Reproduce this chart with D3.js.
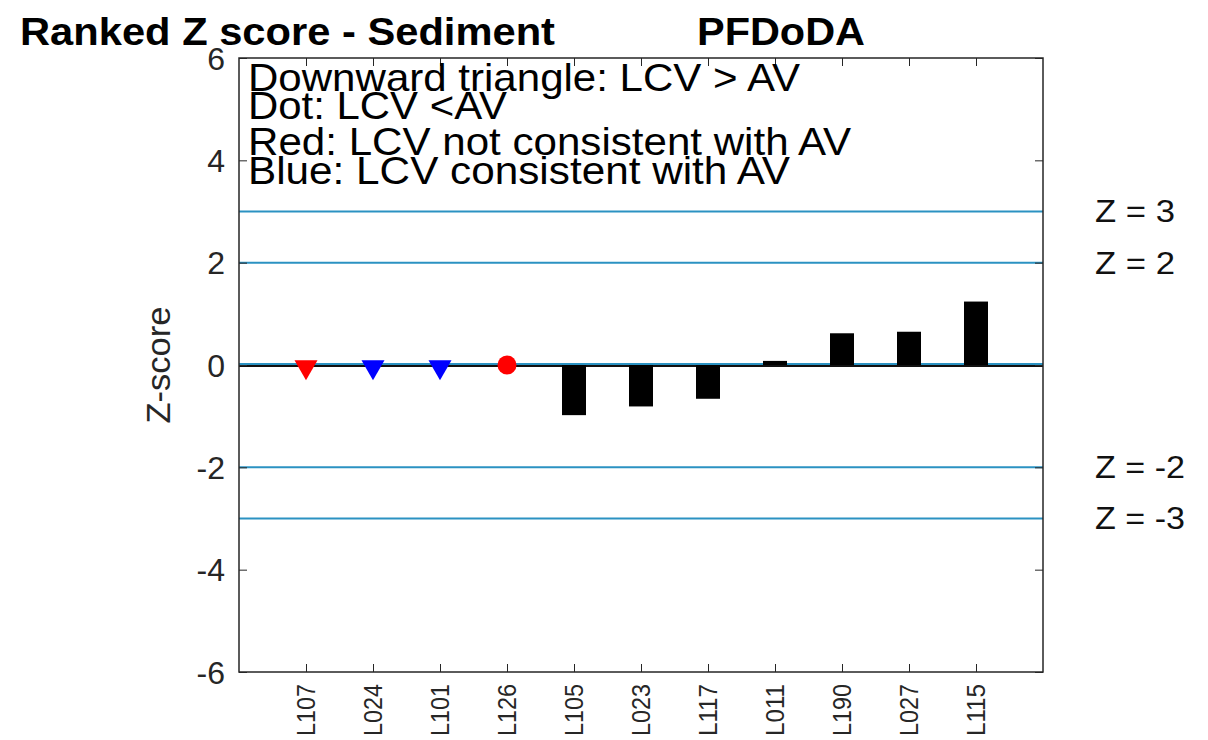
<!DOCTYPE html>
<html><head><meta charset="utf-8">
<script src="https://cdn.jsdelivr.net/npm/d3@7"></script>
<style>
body{margin:0;background:#fff;}
text{font-family:"Liberation Sans",Arial,sans-serif;}
</style></head>
<body><svg id="c" width="1208" height="740"></svg>
<script>
const labs = ["L107","L024","L101","L126","L105","L023","L117","L011","L190","L027","L115"];
const zvals = [null,null,null,null,-0.98,-0.81,-0.66,0.08,0.62,0.65,1.24];
const markerType = ["tri","tri","tri","dot",null,null,null,null,null,null,null];
const markerColor = ["#ff0000","#0000ff","#0000ff","#ff0000",null,null,null,null,null,null,null];
const refLines = [3,2,-2,-3];
const refLabels = ["Z = 3","Z = 2","Z = -2","Z = -3"];
const yTicks = [-6,-4,-2,0,2,4,6];
const legendLines = ["Downward triangle: LCV > AV","Dot: LCV <AV","Red: LCV not consistent with AV","Blue: LCV consistent with AV"];

const svg = d3.select("#c");
const L=239,R=1043,T=58,B=672;
const x = d3.scaleLinear().domain([0,labs.length+1]).range([L,R]);
const y = d3.scaleLinear().domain([-6,6]).range([B,T]);
const lineCol = "#2b92c2";
const axCol = "#262626";

svg.selectAll(".ref").data(refLines).enter().append("line")
  .attr("x1",L).attr("x2",R).attr("y1",d=>y(d)).attr("y2",d=>y(d))
  .attr("stroke",lineCol).attr("stroke-width",2);
svg.append("line").attr("x1",L).attr("x2",R).attr("y1",y(0)-1).attr("y2",y(0)-1).attr("stroke",lineCol).attr("stroke-width",2);
svg.append("line").attr("x1",L).attr("x2",R).attr("y1",y(0)+1).attr("y2",y(0)+1).attr("stroke","#111").attr("stroke-width",2);

const bw = 24;
svg.selectAll(".bar").data(zvals.map((v,i)=>({v,i})).filter(d=>d.v!==null)).enter().append("rect")
  .attr("x",d=>x(d.i+1)-bw/2).attr("width",bw)
  .attr("y",d=>y(Math.max(0,d.v))).attr("height",d=>Math.abs(y(d.v)-y(0)))
  .attr("fill","#000");

const mk = labs.map((l,i)=>({i,t:markerType[i],c:markerColor[i]})).filter(d=>d.t);
svg.selectAll(".tri").data(mk.filter(d=>d.t==="tri")).enter().append("path")
  .attr("d",d3.symbol().type(d3.symbolTriangle).size(230))
  .attr("transform",d=>`translate(${x(d.i+1)},${y(0)+2}) rotate(180)`)
  .attr("fill",d=>d.c);
svg.selectAll(".dot").data(mk.filter(d=>d.t==="dot")).enter().append("circle")
  .attr("cx",d=>x(d.i+1)).attr("cy",y(0)).attr("r",9.5).attr("fill",d=>d.c);

svg.append("rect").attr("x",L).attr("y",T).attr("width",R-L).attr("height",B-T)
  .attr("fill","none").attr("stroke",axCol).attr("stroke-width",1.5);

const ya = svg.append("g").attr("transform",`translate(${L},0)`)
  .call(d3.axisLeft(y).tickValues(yTicks).tickSize(-8).tickPadding(14).tickFormat(d=>String(d)));
ya.select(".domain").remove();
ya.selectAll("line").attr("stroke",axCol);
ya.selectAll("text").attr("font-size",32).attr("fill",axCol).attr("dy","0.35em");
const yr = svg.append("g").attr("transform",`translate(${R},0)`)
  .call(d3.axisRight(y).tickValues(yTicks).tickSize(-8).tickFormat(""));
yr.select(".domain").remove(); yr.selectAll("line").attr("stroke",axCol);

const xa = svg.append("g").attr("transform",`translate(0,${B})`)
  .call(d3.axisBottom(x).tickValues(d3.range(1,labs.length+1)).tickSize(-8).tickFormat(d=>labs[d-1]));
xa.select(".domain").remove();
xa.selectAll("line").attr("stroke",axCol);
xa.selectAll("text").attr("font-size",25).attr("fill",axCol)
  .attr("transform","rotate(-90)").attr("text-anchor","end")
  .attr("x",-12).attr("y",0).attr("dy","0.35em")
  .attr("textLength",52).attr("lengthAdjust","spacingAndGlyphs");
const xt = svg.append("g").attr("transform",`translate(0,${T})`)
  .call(d3.axisTop(x).tickValues(d3.range(1,labs.length+1)).tickSize(-8).tickFormat(""));
xt.select(".domain").remove(); xt.selectAll("line").attr("stroke",axCol);

svg.append("text").attr("transform",`translate(170,${y(0)}) rotate(-90)`)
  .attr("text-anchor","middle").attr("font-size",33).attr("fill",axCol)
  .attr("textLength",117).attr("lengthAdjust","spacingAndGlyphs").text("Z-score");

const rlw = [80,80,90,90];
svg.selectAll(".rl").data(refLines).enter().append("text")
  .attr("x",1095).attr("y",d=>y(d)).attr("dy","0.35em")
  .attr("font-size",31).attr("fill","#111")
  .attr("textLength",(d,i)=>rlw[i]).attr("lengthAdjust","spacingAndGlyphs")
  .text((d,i)=>refLabels[i]);

svg.append("text").attr("x",20).attr("y",45).attr("font-size",39).attr("font-weight","bold")
  .attr("fill","#000").attr("textLength",535).attr("lengthAdjust","spacingAndGlyphs")
  .text("Ranked Z score - Sediment");
svg.append("text").attr("x",697).attr("y",45).attr("font-size",39).attr("font-weight","bold")
  .attr("fill","#000").attr("textLength",168).attr("lengthAdjust","spacingAndGlyphs").text("PFDoDA");

const lb = [91,119,155,184];
const lw = [552,259,603,542];
svg.selectAll(".lg").data(legendLines).enter().append("text")
  .attr("x",248).attr("y",(d,i)=>lb[i]).attr("font-size",39).attr("fill","#000")
  .attr("textLength",(d,i)=>lw[i]).attr("lengthAdjust","spacingAndGlyphs").text(d=>d);
</script></body></html>
